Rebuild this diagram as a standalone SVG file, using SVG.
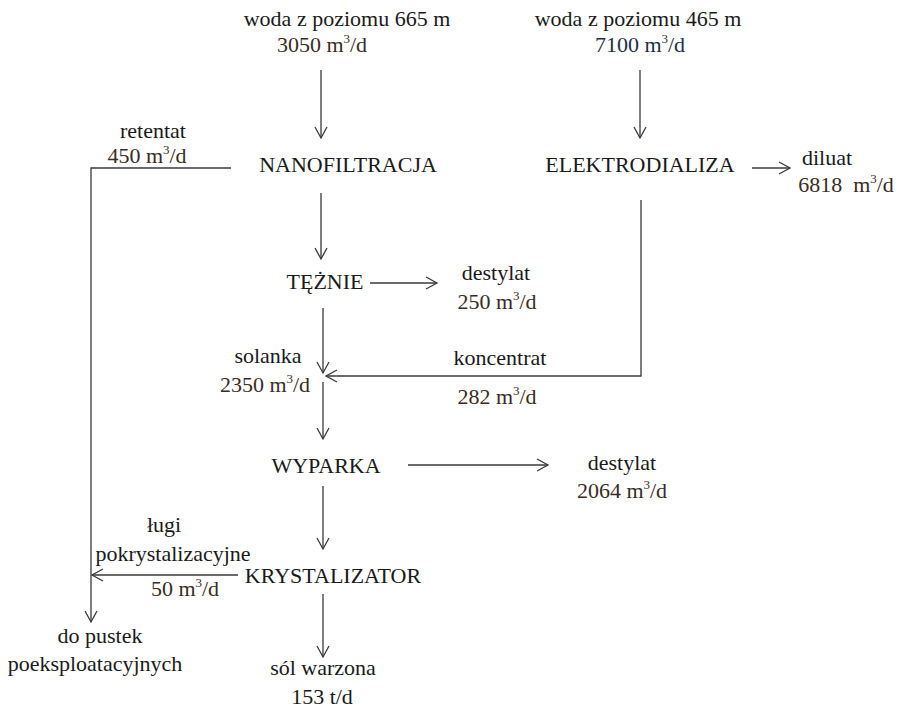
<svg xmlns="http://www.w3.org/2000/svg" width="904" height="710" viewBox="0 0 904 710">
<defs>
<marker id="ah" markerWidth="14" markerHeight="14" refX="12" refY="7" orient="auto" markerUnits="userSpaceOnUse">
<path d="M1,1 L12,7 L1,13" fill="none" stroke="#3a3a3a" stroke-width="1.3"/>
</marker>
</defs>
<style>
text{font-family:"Liberation Serif","Times New Roman",serif;font-size:22px;fill:#1a1a1a;text-anchor:middle}
.n{fill:#3a2c1f}
.b{fill:#1e2f45}
.sup{font-size:13px}
.l{fill:none;stroke:#3a3a3a;stroke-width:1.3}
.pre{white-space:pre}
</style>
<rect width="904" height="710" fill="#ffffff"/>
<g id="connectors">
<line class="l" x1="321" y1="70" x2="321" y2="138" marker-end="url(#ah)"/>
<line class="l" x1="640" y1="70" x2="640" y2="138" marker-end="url(#ah)"/>
<polyline class="l" points="231,168 91,168 91,622" marker-end="url(#ah)"/>
<line class="l" x1="752" y1="168" x2="790" y2="168" marker-end="url(#ah)"/>
<line class="l" x1="321" y1="193" x2="321" y2="259" marker-end="url(#ah)"/>
<line class="l" x1="370" y1="283" x2="437" y2="283" marker-end="url(#ah)"/>
<polyline class="l" points="641,200 641,376 326,376" marker-end="url(#ah)"/>
<line class="l" x1="323" y1="308" x2="323" y2="373" marker-end="url(#ah)"/>
<line class="l" x1="323" y1="382" x2="323" y2="439" marker-end="url(#ah)"/>
<line class="l" x1="408" y1="465" x2="548" y2="465" marker-end="url(#ah)"/>
<line class="l" x1="323" y1="486" x2="323" y2="549" marker-end="url(#ah)"/>
<line class="l" x1="238" y1="575" x2="92" y2="575" marker-end="url(#ah)"/>
<line class="l" x1="323" y1="594" x2="323" y2="657" marker-end="url(#ah)"/>
</g>
<g id="src665">
<text x="347" y="26">woda z poziomu 665 m</text>
<text x="322" y="52" class="n">3050 m<tspan class="sup" dy="-9">3</tspan><tspan dy="9">/d</tspan></text>
</g>
<g id="src465">
<text x="638" y="26">woda z poziomu 465 m</text>
<text x="640" y="52" class="b">7100 m<tspan class="sup" dy="-9">3</tspan><tspan dy="9">/d</tspan></text>
</g>
<g id="retentat">
<text x="153" y="138">retentat</text>
<text x="147" y="163" class="n">450 m<tspan class="sup" dy="-9">3</tspan><tspan dy="9">/d</tspan></text>
</g>
<g id="nanofiltracja">
<text x="348" y="172">NANOFILTRACJA</text>
</g>
<g id="elektrodializa">
<text x="640" y="172">ELEKTRODIALIZA</text>
</g>
<g id="diluat">
<text x="827" y="165">diluat</text>
<text x="846" y="192" class="n pre">6818  m<tspan class="sup" dy="-9">3</tspan><tspan dy="9">/d</tspan></text>
</g>
<g id="teznie">
<text x="325" y="289">TĘŻNIE</text>
</g>
<g id="destylat1">
<text x="496" y="280">destylat</text>
<text x="497" y="309" class="n">250 m<tspan class="sup" dy="-9">3</tspan><tspan dy="9">/d</tspan></text>
</g>
<g id="solanka">
<text x="268" y="363">solanka</text>
<text x="265" y="392" class="n">2350 m<tspan class="sup" dy="-9">3</tspan><tspan dy="9">/d</tspan></text>
</g>
<g id="koncentrat">
<text x="500" y="365">koncentrat</text>
<text x="497" y="404" class="n">282 m<tspan class="sup" dy="-9">3</tspan><tspan dy="9">/d</tspan></text>
</g>
<g id="wyparka">
<text x="326" y="473">WYPARKA</text>
</g>
<g id="destylat2">
<text x="622" y="470">destylat</text>
<text x="622" y="498" class="n">2064 m<tspan class="sup" dy="-9">3</tspan><tspan dy="9">/d</tspan></text>
</g>
<g id="lugi">
<text x="164" y="532">ługi</text>
<text x="173" y="561">pokrystalizacyjne</text>
<text x="185" y="596" class="n">50 m<tspan class="sup" dy="-9">3</tspan><tspan dy="9">/d</tspan></text>
</g>
<g id="krystalizator">
<text x="333" y="583">KRYSTALIZATOR</text>
</g>
<g id="pustki">
<text x="100" y="643">do pustek</text>
<text x="95" y="671">poeksploatacyjnych</text>
</g>
<g id="sol">
<text x="323" y="675">sól warzona</text>
<text x="322" y="704">153 t/d</text>
</g>
</svg>
